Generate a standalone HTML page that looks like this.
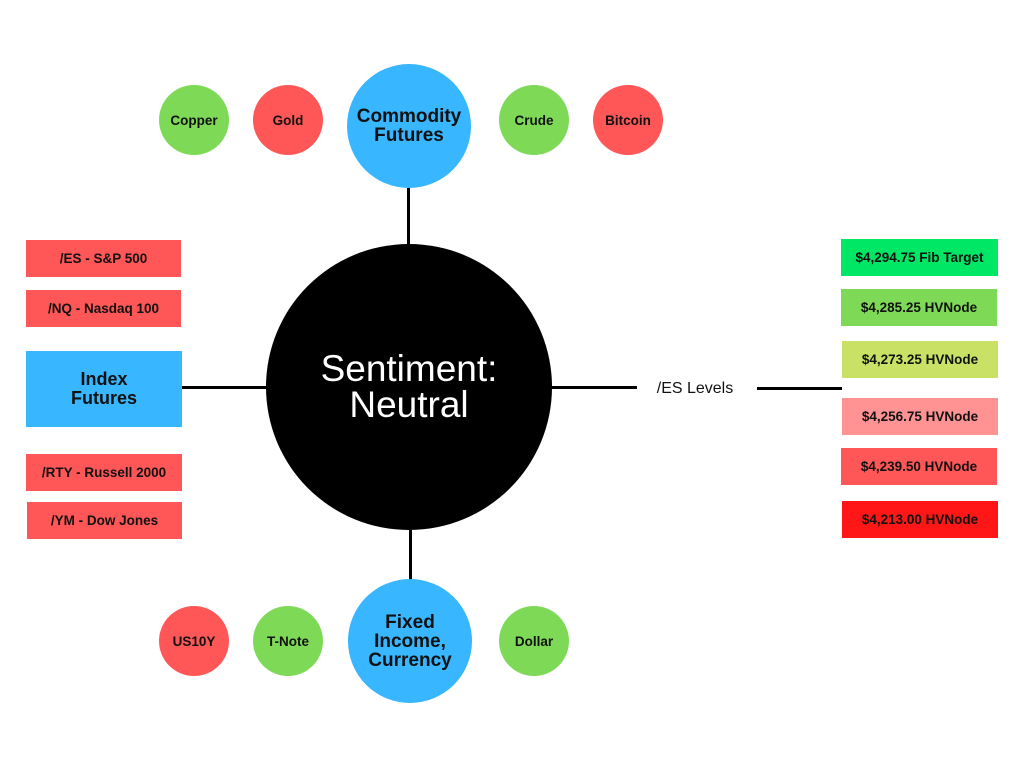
<!DOCTYPE html>
<html><head><style>
body{margin:0;width:1024px;height:768px;background:#fff;position:relative;overflow:hidden;font-family:"Liberation Sans",sans-serif}
.b{position:absolute;display:flex;align-items:center;justify-content:center;font-weight:bold;font-size:13.5px;color:#111;text-align:center}
.c{position:absolute;border-radius:50%;display:flex;align-items:center;justify-content:center;font-weight:bold;font-size:13.5px;color:#111;text-align:center}
.l{position:absolute;background:#000}
</style></head><body>
<div class="l" style="left:407px;top:188px;width:3px;height:58px"></div>
<div class="l" style="left:409px;top:530px;width:3px;height:52px"></div>
<div class="l" style="left:181px;top:386px;width:86px;height:3px"></div>
<div class="l" style="left:551px;top:386px;width:86px;height:3px"></div>
<div class="l" style="left:757px;top:387px;width:85px;height:3px"></div>
<div class="b" style="left:640px;top:377px;width:110px;height:24px;font-weight:normal;font-size:16px">/ES Levels</div>

<div class="c" style="left:266px;top:244px;width:286px;height:286px;background:#000;color:#fff;font-weight:normal;font-size:37px;line-height:36px">Sentiment:<br>Neutral</div>
<div class="c" style="left:347px;top:64px;width:124px;height:124px;background:#38b6ff;font-size:19px;line-height:19px">Commodity<br>Futures</div>
<div class="c" style="left:348px;top:579px;width:124px;height:124px;background:#38b6ff;font-size:19px;line-height:19px">Fixed<br>Income,<br>Currency</div>

<div class="c" style="left:159px;top:85px;width:70px;height:70px;background:#7ed957">Copper</div>
<div class="c" style="left:253px;top:85px;width:70px;height:70px;background:#ff5757">Gold</div>
<div class="c" style="left:499px;top:85px;width:70px;height:70px;background:#7ed957">Crude</div>
<div class="c" style="left:593px;top:85px;width:70px;height:70px;background:#ff5757">Bitcoin</div>
<div class="c" style="left:159px;top:606px;width:70px;height:70px;background:#ff5757">US10Y</div>
<div class="c" style="left:253px;top:606px;width:70px;height:70px;background:#7ed957">T-Note</div>
<div class="c" style="left:499px;top:606px;width:70px;height:70px;background:#7ed957">Dollar</div>

<div class="b" style="left:26px;top:240px;width:155px;height:37px;background:#ff5757">/ES - S&amp;P 500</div>
<div class="b" style="left:26px;top:290px;width:155px;height:37px;background:#ff5757">/NQ - Nasdaq 100</div>
<div class="b" style="left:26px;top:351px;width:156px;height:76px;background:#38b6ff;font-size:18px;line-height:19px">Index<br>Futures</div>
<div class="b" style="left:26px;top:454px;width:156px;height:37px;background:#ff5757">/RTY - Russell 2000</div>
<div class="b" style="left:27px;top:502px;width:155px;height:37px;background:#ff5757">/YM - Dow Jones</div>

<div class="b" style="left:841px;top:239px;width:157px;height:37px;background:#00e765">$4,294.75 Fib Target</div>
<div class="b" style="left:841px;top:289px;width:156px;height:37px;background:#7ed957">$4,285.25 HVNode</div>
<div class="b" style="left:842px;top:341px;width:156px;height:37px;background:#c9e265">$4,273.25 HVNode</div>
<div class="b" style="left:842px;top:398px;width:156px;height:37px;background:#ff9393">$4,256.75 HVNode</div>
<div class="b" style="left:841px;top:448px;width:156px;height:37px;background:#ff5757">$4,239.50 HVNode</div>
<div class="b" style="left:842px;top:501px;width:156px;height:37px;background:#ff1616">$4,213.00 HVNode</div>
</body></html>
